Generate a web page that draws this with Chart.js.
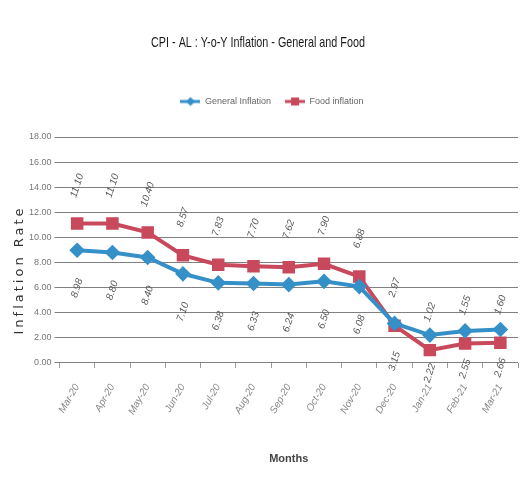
<!DOCTYPE html>
<html>
<head>
<meta charset="utf-8">
<script src="https://cdn.jsdelivr.net/npm/chart.js@4.4.0/dist/chart.umd.min.js"></script>
<style>
    html, body { margin: 0; padding: 0; background: #fff; }
    #wrap { width: 522px; height: 493px; }
</style>
</head>
<body>
<div id="wrap"><canvas id="cpi-chart"></canvas></div>
<script>
// Datos del gráfico
const months = ['Mar-20', 'Apr-20', 'May-20', 'Jun-20', 'Jul-20', 'Aug-20', 'Sep-20',
    'Oct-20', 'Nov-20', 'Dec-20', 'Jan-21', 'Feb-21', 'Mar-21'];
const generalInflation = [8.98, 8.80, 8.40, 7.10, 6.38, 6.33, 6.24, 6.50, 6.08, 3.15, 2.22, 2.55, 2.66];
const foodInflation = [11.10, 11.10, 10.40, 8.57, 7.83, 7.70, 7.62, 7.90, 6.88, 2.97, 1.02, 1.55, 1.60];
const yMin = 0;
const yMax = 18;
const yStep = 2;

const BLUE = '#3590c8';
const RED = '#c9495c';
const FONT = '"Liberation Sans", Arial, sans-serif';

// Icono de leyenda: línea + marcador
function legendIcon(color, shape) {
    const c = document.createElement('canvas');
    c.width = 20; c.height = 10;
    const g = c.getContext('2d');
    g.strokeStyle = color;
    g.lineWidth = 3;
    g.beginPath(); g.moveTo(0, 5); g.lineTo(20, 5); g.stroke();
    g.fillStyle = color;
    if (shape === 'diamond') {
        g.beginPath(); g.moveTo(10, 0.5); g.lineTo(14.5, 5); g.lineTo(10, 9.5); g.lineTo(5.5, 5); g.closePath(); g.fill();
    } else {
        g.fillRect(6, 1, 8, 8);
    }
    return c;
}

// Título principal (condensado)
const chartTitle = {
    id: 'chartTitle',
    afterDraw(chart) {
        const ctx = chart.ctx;
        ctx.save();
        ctx.translate(258, 43);
        ctx.scale(0.72, 1);
        ctx.font = '15px ' + FONT;
        ctx.fillStyle = '#1a1a1a';
        ctx.textAlign = 'center';
        ctx.textBaseline = 'middle';
        ctx.fillText('CPI - AL : Y-o-Y Inflation - General and Food', 0, 0);
        ctx.restore();
    }
};

// Espacio extra bajo la leyenda
const legendGap = {
    id: 'legendGap',
    afterInit(chart) {
        const fit = chart.legend.fit;
        chart.legend.fit = function () {
            fit.call(this);
            this.height += 21;
        };
    }
};

// Etiquetas de valores rotadas
const valueLabels = {
    id: 'valueLabels',
    afterDatasetsDraw(chart) {
        const ctx = chart.ctx;
        chart.data.datasets.forEach((ds, i) => {
            const meta = chart.getDatasetMeta(i);
            const dir = ds.labelSide === 'above' ? -1 : 1;
            meta.data.forEach((pt, j) => {
                ctx.save();
                ctx.translate(pt.x, pt.y + dir * 38);
                ctx.rotate(-72 * Math.PI / 180);
                ctx.font = 'italic 10px ' + FONT;
                ctx.fillStyle = '#5a5a5a';
                ctx.textAlign = 'center';
                ctx.textBaseline = 'middle';
                ctx.fillText(ds.data[j].toFixed(2), 0, 0);
                ctx.restore();
            });
        });
    }
};

// Título del eje Y con espaciado de letras
const yTitle = {
    id: 'yTitle',
    afterDraw(chart) {
        const ctx = chart.ctx;
        const area = chart.chartArea;
        ctx.save();
        ctx.translate(20, (area.top + area.bottom) / 2 + 20);
        ctx.rotate(-Math.PI / 2);
        ctx.font = '13px "DejaVu Sans", sans-serif';
        ctx.letterSpacing = '3px';
        ctx.fillStyle = '#333';
        ctx.textAlign = 'center';
        ctx.textBaseline = 'middle';
        ctx.fillText('Inflation Rate', 0, 0);
        ctx.restore();
    }
};

new Chart(document.getElementById('cpi-chart'), {
    type: 'line',
    data: {
        labels: months,
        datasets: [{
            label: 'General Inflation',
            data: generalInflation,
            borderColor: BLUE,
            backgroundColor: BLUE,
            borderWidth: 4,
            pointStyle: 'rectRot',
            pointRadius: 5,
            pointHoverRadius: 5,
            tension: 0,
            labelSide: 'below'
        }, {
            label: 'Food inflation',
            data: foodInflation,
            borderColor: RED,
            backgroundColor: RED,
            borderWidth: 4,
            pointStyle: 'rect',
            pointRadius: 6,
            pointHoverRadius: 6,
            tension: 0,
            labelSide: 'above'
        }]
    },
    options: {
        responsive: true,
        maintainAspectRatio: false,
        animation: false,
        layout: { autoPadding: false, padding: { left: 26, right: 4, top: 83, bottom: 23 } },
        plugins: {
            title: { display: false },
            legend: {
                labels: {
                    color: '#666',
                    font: { family: FONT, size: 9 },
                    usePointStyle: true,
                    pointStyleWidth: 20,
                    boxHeight: 10,
                    padding: 14,
                    generateLabels(chart) {
                        return chart.data.datasets.map((ds, i) => ({
                            text: ds.label,
                            pointStyle: legendIcon(ds.borderColor, i === 0 ? 'diamond' : 'square'),
                            fillStyle: ds.borderColor,
                            strokeStyle: ds.borderColor,
                            lineWidth: 0,
                            fontColor: '#666',
                            datasetIndex: i
                        }));
                    }
                }
            },
            tooltip: { enabled: false }
        },
        scales: {
            x: {
                offset: true,
                grid: { display: true, drawOnChartArea: false, offset: true, color: '#999', tickLength: 5 },
                border: { display: false },
                ticks: {
                    color: '#888',
                    font: { family: FONT, size: 10, style: 'italic' },
                    maxRotation: 60,
                    minRotation: 60,
                    padding: 14
                },
                title: {
                    display: true,
                    text: 'Months',
                    color: '#444',
                    font: { family: FONT, size: 11, weight: 'bold' },
                    padding: { top: 22 }
                },
                afterFit(scale) {
                    scale.paddingRight = 0;
                }
            },
            y: {
                min: yMin,
                max: yMax,
                grid: { color: '#808080', tickLength: 5 },
                border: { display: false },
                ticks: {
                    stepSize: yStep,
                    color: '#777',
                    font: { family: FONT, size: 9 },
                    padding: 3,
                    callback: v => v.toFixed(2)
                }
            }
        }
    },
    plugins: [legendGap, valueLabels, yTitle, chartTitle]
});
</script>
</body>
</html>
